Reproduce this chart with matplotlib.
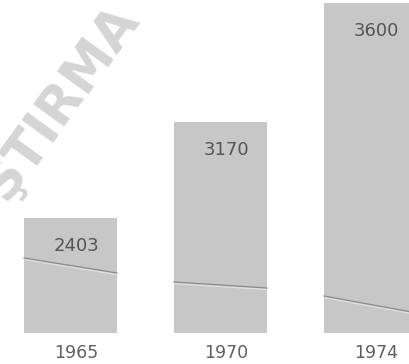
import matplotlib
matplotlib.use('Agg')
import matplotlib.pyplot as plt

# values printed on the bars
years = ['1965', '1970', '1974']
values = [2403, 3170, 3600]

# drawn bar heights as they appear in the picture (not to scale with values)
bar_heights = [115, 211, 330]
# the thin dividing line inside each bar: height at left and right edge
split_left = [75, 51, 37]
split_right = [60, 45, 20]

bar_color = '#c7c7c7'
text_color = '#555555'

fig = plt.figure(figsize=(4.09, 3.64), dpi=100)
ax = fig.add_axes([0, 0, 1, 1])
ax.set_xlim(-0.47, 2.257)
ax.set_ylim(-31, 333)
ax.axis('off')

# watermark (cropped part of "ARAŞTIRMA")
ax.text(0.15, 0.72, 'ŞTIRMA', transform=ax.transAxes, rotation=54,
        fontsize=38, fontweight='bold', color='#d5d5d5',
        ha='center', va='center', zorder=0)

xs = range(len(years))
w = 0.62
ax.bar(xs, bar_heights, width=w, color=bar_color, edgecolor='none', zorder=2)

for i in xs:
    x0, x1 = i - w / 2, i + w / 2
    ax.plot([x0, x1], [split_left[i], split_right[i]], color='#8a8a8a', lw=0.9, zorder=3)
    ax.plot([x0, x1], [split_left[i] - 1.6, split_right[i] - 1.6], color='#e2e2e2', lw=0.8, zorder=3)
    ax.text(i + 0.04, bar_heights[i] - 28, str(values[i]), ha='center', va='center',
            fontsize=13, color=text_color, zorder=4)
    ax.text(i + 0.04, -20, years[i], ha='center', va='center',
            fontsize=12.5, color='#606060', zorder=4)

fig.savefig('out.png', dpi=100)
